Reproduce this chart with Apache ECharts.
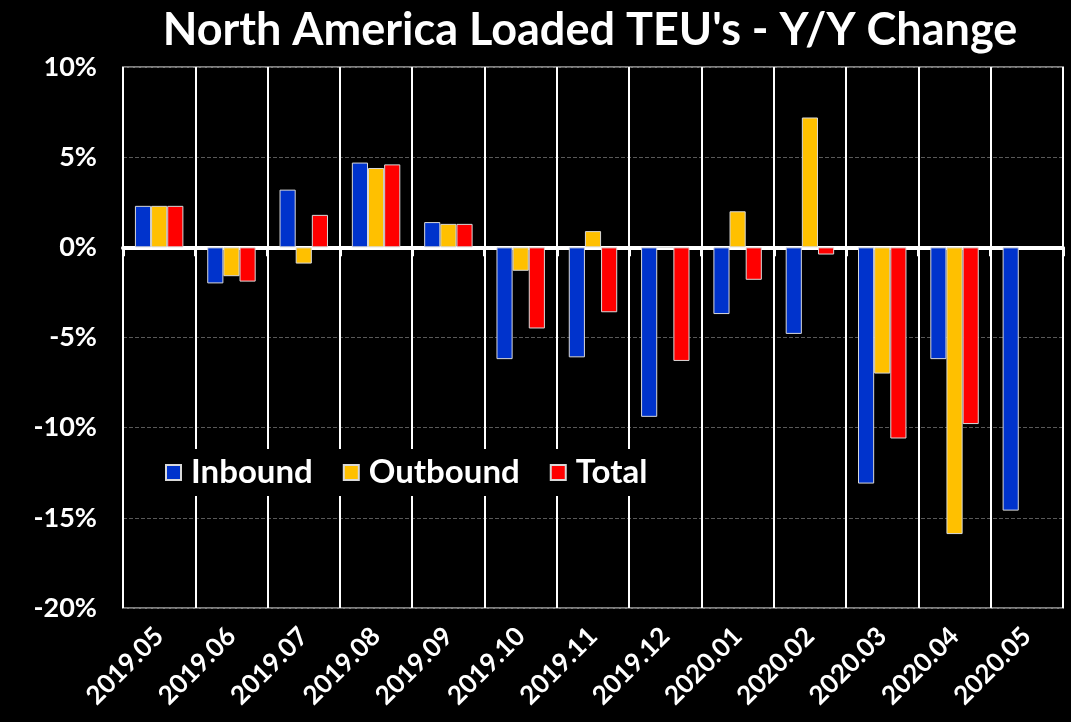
<!DOCTYPE html>
<html>
<head>
<meta charset="utf-8">
<script src="https://cdn.jsdelivr.net/npm/echarts@6/dist/echarts.min.js"></script>
<style>
  html, body { margin: 0; padding: 0; background: #000; }
  #main { width: 1071px; height: 722px; }
</style>
</head>
<body>
<div id="main"></div>
<script>
// months on the x axis
var months = ['2019.05', '2019.06', '2019.07', '2019.08', '2019.09', '2019.10', '2019.11',
    '2019.12', '2020.01', '2020.02', '2020.03', '2020.04', '2020.05'];

// y/y change, percent
var inbound  = [2.3, -2.0, 3.2, 4.7, 1.4, -6.2, -6.1, -9.4, -3.7, -4.8, -13.1, -6.2, -14.6];
var outbound = [2.3, -1.6, -0.9, 4.4, 1.3, -1.3, 0.9, 0, 2.0, 7.2, -7.0, -15.9, null];
var total    = [2.3, -1.9, 1.8, 4.6, 1.3, -4.5, -3.6, -6.3, -1.8, -0.4, -10.6, -9.8, null];

var font = 'Lato, "DejaVu Sans", sans-serif';

var chart = echarts.init(document.getElementById('main'));

function barSeries(name, data, color) {
    return {
        name: name,
        type: 'bar',
        data: data,
        barGap: '0%',
        barCategoryGap: '33%',
        itemStyle: {color: color, borderColor: '#d9d9d9', borderWidth: 1},
        z: 3
    };
}

var option = {
    backgroundColor: '#000',
    animation: false,
    title: {
        text: "North America Loaded TEU's - Y/Y Change",
        left: 585,
        textAlign: 'center',
        top: 3,
        textStyle: {color: '#fff', fontFamily: font, fontWeight: 'bold', fontSize: 45}
    },
    legend: {
        left: 155,
        top: 449,
        itemWidth: 15,
        itemHeight: 15,
        itemGap: 30,
        backgroundColor: '#000',
        padding: [7, 10],
        icon: 'rect',
        textStyle: {color: '#fff', fontFamily: font, fontWeight: 'bold', fontSize: 33,
            padding: [0, 0, 0, 5]},
        data: ['Inbound', 'Outbound', 'Total']
    },
    grid: {
        left: 123,
        right: 8,
        top: 67,
        bottom: 114,
        show: true,
        borderColor: '#7f7f7f',
        borderWidth: 2,
        backgroundColor: 'transparent'
    },
    xAxis: [
        {
            type: 'category',
            data: months,
            position: 'bottom',
            axisLine: {show: false, onZero: false},
            axisTick: {show: false},
            splitLine: {show: true, lineStyle: {color: '#fff', width: 2}},
            axisLabel: {
                rotate: 45,
                margin: 24,
                color: '#fff',
                fontFamily: font,
                fontWeight: 'bold',
                fontSize: 26
            }
        },
        {
            type: 'category',
            data: months,
            position: 'top',
            axisLine: {onZero: true, lineStyle: {color: '#fff', width: 4}},
            axisTick: {show: true, inside: true, length: 9, lineStyle: {color: '#fff', width: 3}},
            axisLabel: {show: false},
            splitLine: {show: false}
        }
    ],
    yAxis: {
        type: 'value',
        min: -20,
        max: 10,
        interval: 5,
        axisLine: {show: false},
        axisTick: {show: false},
        axisLabel: {
            formatter: '{value}%',
            margin: 26,
            color: '#fff',
            fontFamily: font,
            fontWeight: 'bold',
            fontSize: 27
        },
        splitLine: {lineStyle: {color: '#595959', type: 'dashed', width: 1}}
    },
    series: [
        barSeries('Inbound', inbound, '#0033cc'),
        barSeries('Outbound', outbound, '#ffc000'),
        barSeries('Total', total, '#ff0000')
    ]
};

chart.setOption(option);
</script>
</body>
</html>
